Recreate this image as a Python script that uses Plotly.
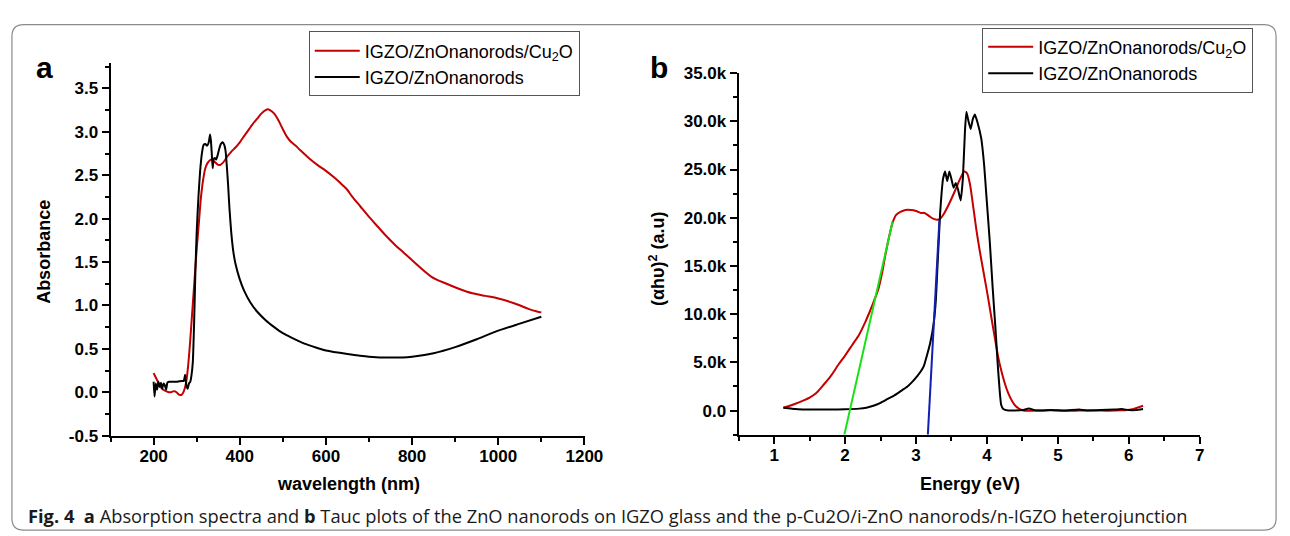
import plotly.graph_objects as go

# ---------------- Panel a: absorption spectra ----------------
wl_cu2o = [200, 205, 210, 215, 220, 225, 230, 235, 240, 245, 250, 255, 260, 265, 270, 275, 280, 285,
           290, 295, 300, 305, 310, 315, 320, 325, 330, 335, 340, 345, 350, 355, 360, 365, 370, 380,
           390, 400, 410, 420, 430, 440, 450, 460, 465, 470, 480, 490, 500, 510, 520, 530, 540, 560,
           580, 600, 620, 640, 650, 660, 680, 700, 720, 740, 760, 780, 800, 845, 880, 910, 940, 970,
           1000, 1040, 1070, 1090, 1100]
abs_cu2o = [0.22, 0.17, 0.12, 0.07, 0.04, 0.02, 0.01, 0.00, 0.00, 0.01, 0.01, -0.01, -0.03, -0.03, 0.01,
            0.10, 0.30, 0.60, 0.95, 1.30, 1.65, 1.95, 2.25, 2.45, 2.58, 2.64, 2.67, 2.68, 2.66, 2.64,
            2.62, 2.62, 2.64, 2.67, 2.71, 2.77, 2.82, 2.88, 2.95, 3.02, 3.09, 3.15, 3.21, 3.25, 3.26,
            3.25, 3.21, 3.13, 3.03, 2.94, 2.88, 2.84, 2.79, 2.70, 2.62, 2.55, 2.47, 2.38, 2.33, 2.26,
            2.14, 2.02, 1.91, 1.80, 1.70, 1.61, 1.52, 1.33, 1.25, 1.19, 1.14, 1.11, 1.08, 1.02, 0.96,
            0.93, 0.92]

wl_zno = [200, 202, 205, 208, 211, 214, 217, 220, 223, 226, 229, 232, 236, 245, 255, 265, 270, 273,
          276, 279, 282, 285, 288, 291, 294, 297, 300, 304, 308, 312, 316, 320, 324, 328, 331, 333,
          335, 337, 339, 342, 345, 348, 352, 356, 360, 364, 367, 370, 373, 376, 380, 385, 390, 400,
          410, 425, 440, 460, 480, 500, 520, 550, 580, 600, 650, 700, 750, 800, 850, 900, 950, 1000,
          1050, 1100]
abs_zno = [0.12, -0.05, 0.10, 0.03, 0.12, 0.06, 0.11, 0.04, 0.10, 0.08, 0.03, 0.11, 0.12, 0.12, 0.12,
           0.13, 0.13, 0.20, 0.08, 0.04, 0.10, 0.12, 0.20, 0.35, 0.80, 1.40, 1.85, 2.25, 2.55, 2.75,
           2.85, 2.86, 2.84, 2.88, 2.97, 2.90, 2.75, 2.58, 2.68, 2.70, 2.68, 2.72, 2.80, 2.86, 2.88,
           2.85, 2.78, 2.60, 2.38, 2.12, 1.85, 1.62, 1.48, 1.30, 1.17, 1.03, 0.93, 0.83, 0.75, 0.68,
           0.63, 0.56, 0.51, 0.48, 0.44, 0.41, 0.40, 0.41, 0.45, 0.52, 0.61, 0.71, 0.79, 0.87]

# ---------------- Panel b: Tauc plots ----------------
ev_cu2o = [1.13, 1.2, 1.3, 1.4, 1.5, 1.59, 1.7, 1.8, 1.91, 2.0, 2.1, 2.2, 2.28, 2.35, 2.42, 2.47, 2.52,
           2.57, 2.62, 2.67, 2.72, 2.78, 2.85, 2.93, 3.0, 3.07, 3.12, 3.18, 3.24, 3.3, 3.34, 3.4, 3.47,
           3.55, 3.62, 3.68, 3.72, 3.76, 3.8, 3.85, 3.9, 3.99, 4.05, 4.1, 4.18, 4.3, 4.4, 4.5, 4.7,
           4.9, 5.1, 5.3, 5.5, 5.7, 5.9, 5.97, 6.05, 6.12, 6.2]
tauc_cu2o = [300, 450, 700, 1000, 1350, 1800, 2700, 3600, 4800, 5700, 6800, 7900, 9100, 10300, 11600,
             12600, 14200, 16200, 18000, 19500, 20300, 20600, 20800, 20800, 20700, 20500, 20500, 20200,
             19900, 19800, 19900, 20500, 21500, 22800, 24000, 24800, 24600, 23500, 21500, 18800, 16500,
             12800, 10200, 8000, 4800, 1800, 500, 30, 0, 20, -20, 0, 20, -10, 30, 60, 150, 300, 500]

ev_zno = [1.13, 1.2, 1.3, 1.4, 1.6, 1.8, 2.0, 2.2, 2.3, 2.4, 2.5, 2.6, 2.7, 2.8, 2.88, 2.95, 3.02, 3.08,
          3.11, 3.15, 3.2, 3.25, 3.28, 3.3, 3.32, 3.34, 3.36, 3.38, 3.41, 3.44, 3.47, 3.5, 3.53, 3.56,
          3.59, 3.63, 3.66, 3.69, 3.71, 3.74, 3.77, 3.8, 3.83, 3.87, 3.92, 3.96, 3.99, 4.04, 4.08, 4.12,
          4.15, 4.18, 4.2, 4.23, 4.3, 4.5, 4.59, 4.7, 4.9, 5.1, 5.3, 5.4, 5.6, 5.8, 5.9, 6.0, 6.1, 6.2]
tauc_zno = [300, 250, 150, 120, 100, 100, 130, 200, 300, 500, 800, 1200, 1600, 2100, 2500, 3000, 3600,
            4200, 4600, 5600, 7000, 9100, 11500, 14500, 17500, 20500, 22500, 24000, 24800, 23800, 24800,
            24000, 23100, 23600, 23000, 21800, 24000, 29000, 31000, 30000, 29200, 30200, 30700, 29800,
            28200, 25500, 22500, 17500, 12800, 8500, 5000, 2000, 600, 150, 0, 50, 200, 0, 50, 0, 100, 0,
            50, 100, 150, 50, 50, 150]

# tangent (linear fit) lines used for the band-gap extrapolation
fit_cu2o_x = [1.99, 2.67]
fit_cu2o_y = [-2500, 19600]
fit_zno_x = [3.167, 3.33]
fit_zno_y = [-2500, 19800]

# axis ticks
a_xticks = [200, 400, 600, 800, 1000, 1200]
a_yticks = [-0.5, 0.0, 0.5, 1.0, 1.5, 2.0, 2.5, 3.0, 3.5]
a_yticktext = ["-0.5", "0.0", "0.5", "1.0", "1.5", "2.0", "2.5", "3.0", "3.5"]
b_xticks = [1, 2, 3, 4, 5, 6, 7]
b_yticks = [0, 5000, 10000, 15000, 20000, 25000, 30000, 35000]
b_yticktext = ["0.0", "5.0k", "10.0k", "15.0k", "20.0k", "25.0k", "30.0k", "35.0k"]

name_cu2o = "IGZO/ZnOnanorods/Cu<sub>2</sub>O"
name_zno = "IGZO/ZnOnanorods"

RED = "#c40000"
W, H = 1290, 536
ARIAL = "Arial, Liberation Sans, sans-serif"


def px(x):
    return x / W


def py(y):
    return 1 - y / H


fig = go.Figure()
fig.add_trace(go.Scatter(x=wl_cu2o, y=abs_cu2o, mode="lines", name=name_cu2o,
                         line=dict(color=RED, width=2, shape="spline", smoothing=0.8),
                         xaxis="x", yaxis="y", legend="legend"))
fig.add_trace(go.Scatter(x=wl_zno, y=abs_zno, mode="lines", name=name_zno,
                         line=dict(color="black", width=2, shape="spline", smoothing=0.4),
                         xaxis="x", yaxis="y", legend="legend"))
fig.add_trace(go.Scatter(x=ev_cu2o, y=tauc_cu2o, mode="lines", name=name_cu2o,
                         line=dict(color=RED, width=2, shape="spline", smoothing=0.8),
                         xaxis="x2", yaxis="y2", legend="legend2"))
fig.add_trace(go.Scatter(x=ev_zno, y=tauc_zno, mode="lines", name=name_zno,
                         line=dict(color="black", width=2, shape="spline", smoothing=0.4),
                         xaxis="x2", yaxis="y2", legend="legend2"))
fig.add_trace(go.Scatter(x=fit_cu2o_x, y=fit_cu2o_y, mode="lines", showlegend=False,
                         line=dict(color="#16e016", width=2), xaxis="x2", yaxis="y2"))
fig.add_trace(go.Scatter(x=fit_zno_x, y=fit_zno_y, mode="lines", showlegend=False,
                         line=dict(color="#1020b0", width=2), xaxis="x2", yaxis="y2"))

tickfont = dict(family=ARIAL, size=17, color="black", weight="bold")
common = dict(showline=True, linecolor="black", linewidth=2, ticks="outside", ticklen=7,
              tickwidth=2, tickcolor="black", showgrid=False, zeroline=False, tickfont=tickfont,
              mirror=False)

fig.update_layout(
    width=W, height=H,
    margin=dict(l=0, r=0, t=0, b=0),
    paper_bgcolor="white", plot_bgcolor="white",
    xaxis=dict(domain=[px(104), px(585)], range=[100, 1201], anchor="y",
               tickmode="array", tickvals=a_xticks, ticklabelstandoff=-3,
               minor=dict(tickmode="linear", tick0=0, dtick=100, ticks="outside", ticklen=4,
                          tickwidth=2, tickcolor="black"), **common),
    yaxis=dict(domain=[py(434), py(48)], range=[-0.5, 3.79], anchor="x",
               tickmode="array", tickvals=a_yticks, ticktext=a_yticktext,
               minor=dict(tickmode="linear", tick0=0, dtick=0.25, ticks="outside", ticklen=4,
                          tickwidth=2, tickcolor="black"), **common),
    xaxis2=dict(domain=[px(741), px(1209)], range=[0.5, 7.005], anchor="y2",
                tickmode="array", tickvals=b_xticks, ticklabelstandoff=-3,
                minor=dict(tickmode="linear", tick0=0, dtick=0.5, ticks="outside", ticklen=4,
                           tickwidth=2, tickcolor="black"), **common),
    yaxis2=dict(domain=[py(433), py(58)], range=[-2500, 35020], anchor="x2",
                tickmode="array", tickvals=b_yticks, ticktext=b_yticktext,
                minor=dict(tickmode="linear", tick0=0, dtick=2500, ticks="outside", ticklen=4,
                           tickwidth=2, tickcolor="black"), **common),
    legend=dict(x=px(305), y=py(15), xanchor="left", yanchor="top",
                bordercolor="#555", borderwidth=1, bgcolor="white",
                font=dict(family=ARIAL, size=18, color="black"), itemwidth=45,
                tracegroupgap=0),
    legend2=dict(x=px(988), y=py(11), xanchor="left", yanchor="top",
                 bordercolor="#555", borderwidth=1, bgcolor="white",
                 font=dict(family=ARIAL, size=18, color="black"), itemwidth=45,
                 tracegroupgap=0),
    showlegend=True,
)

titlefont = dict(family=ARIAL, size=18, color="black", weight="bold")
ann = [
    dict(x=px(37), y=py(243), text="Absorbance", textangle=-90, font=titlefont),
    dict(x=px(345), y=py(484), text="wavelength (nm)", font=titlefont),
    dict(x=px(658), y=py(250), text="(αhυ)<sup>2</sup> (a.u)", textangle=-90, font=titlefont),
    dict(x=px(976), y=py(484), text="Energy (eV)", font=titlefont),
    dict(x=px(37), y=py(52), text="a", font=dict(family=ARIAL, size=30, color="black", weight="bold")),
    dict(x=px(660), y=py(52), text="b", font=dict(family=ARIAL, size=30, color="black", weight="bold")),
    dict(x=px(18), y=py(517), xanchor="left",
         text="<b>Fig. 4</b>&nbsp; <b>a</b> Absorption spectra and <b>b</b> Tauc plots of the ZnO nanorods "
              "on IGZO glass and the p-Cu2O/i-ZnO nanorods/n-IGZO heterojunction",
         font=dict(family="Open Sans, Noto Sans, sans-serif", size=18.3, color="#1a1a1a")),
]
for a in ann:
    a.setdefault("xanchor", "center")
    a.update(xref="paper", yref="paper", yanchor="middle", showarrow=False)
fig.update_layout(annotations=ann)

# rounded outer frame
x0, x1, y0, y1, r = 4, 1286, 8, 532, 12
path = (f"M {px(x0 + r)},{py(y0)} L {px(x1 - r)},{py(y0)} Q {px(x1)},{py(y0)} {px(x1)},{py(y0 + r)} "
        f"L {px(x1)},{py(y1 - r)} Q {px(x1)},{py(y1)} {px(x1 - r)},{py(y1)} "
        f"L {px(x0 + r)},{py(y1)} Q {px(x0)},{py(y1)} {px(x0)},{py(y1 - r)} "
        f"L {px(x0)},{py(y0 + r)} Q {px(x0)},{py(y0)} {px(x0 + r)},{py(y0)} Z")
fig.add_shape(type="path", path=path, xref="paper", yref="paper",
              line=dict(color="#8a8a8a", width=1.2), layer="below")

fig.write_html("out.html")
